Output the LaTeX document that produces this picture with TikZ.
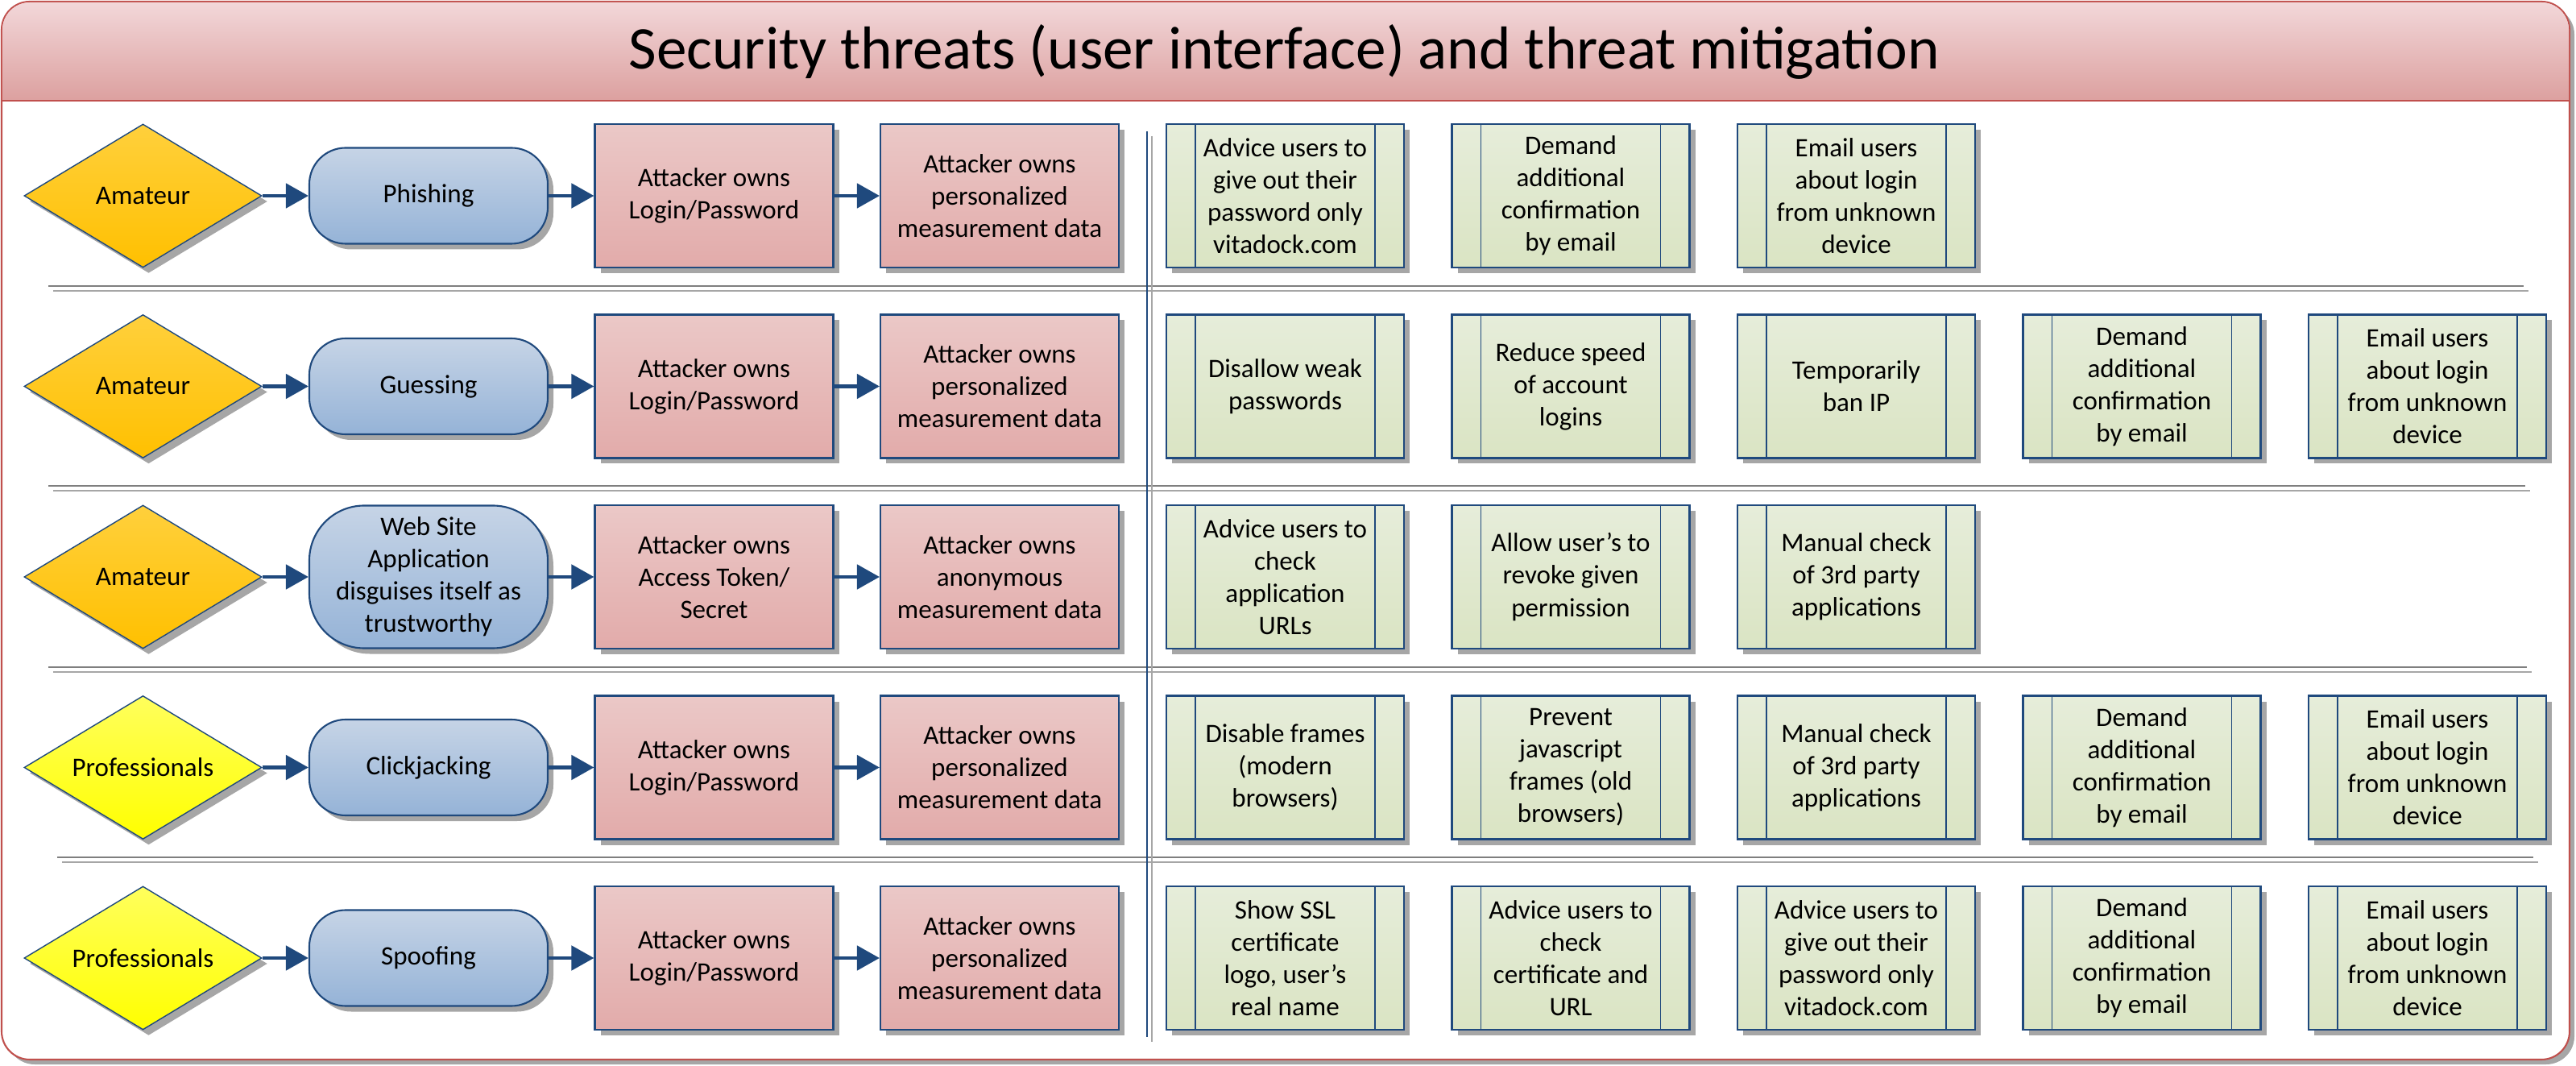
\documentclass[tikz,border=0pt]{standalone}
\usepackage{fontspec}
\setmainfont{Carlito}
\usepackage{xcolor}
\usetikzlibrary{positioning,shapes.geometric,shadows,arrows.meta}

\definecolor{linkblue}{HTML}{1F497D}
\definecolor{framered}{HTML}{C0504D}
\definecolor{titletop}{HTML}{F2D7D9}
\definecolor{titlebot}{HTML}{DCA09F}
\definecolor{amatop}{HTML}{FFD03C}
\definecolor{amabot}{HTML}{FFC000}
\definecolor{protop}{HTML}{FFFF5C}
\definecolor{probot}{HTML}{FFFF00}
\definecolor{thrtop}{HTML}{C6D4E6}
\definecolor{thrbot}{HTML}{95B3D7}
\definecolor{owntop}{HTML}{EBC8C7}
\definecolor{ownbot}{HTML}{E2ABAA}
\definecolor{mittop}{HTML}{E6EDDA}
\definecolor{mitbot}{HTML}{DAE4C3}
\definecolor{sepdark}{HTML}{7F7F7F}
\definecolor{seplight}{HTML}{A6A6A6}

\begin{document}
\begin{tikzpicture}[node distance=3.545cm,on grid,
   >={Triangle[length=0.28cm,width=0.3cm]},
   every node/.style={font=\fontsize{9.4}{11.4}\selectfont,align=center,inner sep=0pt},
   boxshadow/.style={drop shadow={shadow xshift=0.07cm,shadow yshift=-0.07cm,opacity=1,fill=seplight}},
   attacker/.style={boxshadow,diamond,aspect=1.66,minimum width=2.95cm,minimum height=1.78cm,
      draw=linkblue,line width=0.4pt,top color=amatop,bottom color=amabot},
   pro/.style={attacker,top color=protop,bottom color=probot},
   threat/.style={boxshadow,rectangle,rounded corners=0.45cm,minimum width=2.96cm,minimum height=1.19cm,
      draw=linkblue,line width=0.6pt,top color=thrtop,bottom color=thrbot},
   owns/.style={boxshadow,rectangle,minimum width=2.96cm,minimum height=1.78cm,
      draw=linkblue,line width=0.6pt,top color=owntop,bottom color=ownbot},
   counter/.style={boxshadow,rectangle,minimum width=2.95cm,minimum height=1.78cm,
      draw=linkblue,line width=0.6pt,top color=mittop,bottom color=mitbot,
      path picture={\draw[linkblue,line width=0.4pt]
         ([xshift=0.36cm]path picture bounding box.north west) -- ([xshift=0.36cm]path picture bounding box.south west)
         ([xshift=-0.36cm]path picture bounding box.north east) -- ([xshift=-0.36cm]path picture bounding box.south east);}},
   flow/.style={->,draw=linkblue,color=linkblue,line width=1.4pt},
   sepline/.style={line width=0.7pt}]
   \useasboundingbox (0,0) rectangle (31.98,-13.23);

   % frame and title band
   \draw[framered,fill=white,line width=0.6pt,rounded corners=0.35cm,
      drop shadow={shadow xshift=0.06cm,shadow yshift=-0.06cm,opacity=1,fill=seplight}]
      (0.02,-0.02) rectangle (31.90,-13.15);
   \shade[top color=titletop,bottom color=titlebot]
      (0.03,-1.25) -- (0.03,-0.37) arc[start angle=180,end angle=90,radius=0.34]
      -- (31.55,-0.03) arc[start angle=90,end angle=0,radius=0.34] -- (31.89,-1.25) -- cycle;
   \draw[framered,line width=0.6pt] (0.02,-1.25) -- (31.90,-1.25);
   \node[font=\fontsize{21.4}{25}\selectfont] (title) at (15.94,-0.64)
      {Security threats (user interface) and threat mitigation};

   % row separators and column divider
   \draw[sepline,sepdark]  (0.60,-3.55) -- (31.33,-3.55);
   \draw[sepline,seplight] (0.66,-3.61) -- (31.39,-3.61);
   \draw[sepline,sepdark]  (0.60,-6.03) -- (31.35,-6.03);
   \draw[sepline,seplight] (0.66,-6.09) -- (31.41,-6.09);
   \draw[sepline,sepdark]  (0.60,-8.28) -- (31.37,-8.28);
   \draw[sepline,seplight] (0.66,-8.34) -- (31.43,-8.34);
   \draw[sepline,sepdark]  (0.71,-10.64) -- (31.45,-10.64);
   \draw[sepline,seplight] (0.77,-10.70) -- (31.51,-10.70);
   \draw[linkblue,line width=0.5pt] (14.24,-1.63) -- (14.24,-12.87);
   \draw[seplight,line width=0.6pt] (14.30,-1.69) -- (14.30,-12.93);

   % row 1
   \node[attacker] (att_1) at (1.775,-2.43) {Amateur};
   \node[threat] (thr_1) [right=of att_1] {Phishing};
   \node[owns] (own_1) [right=of thr_1] {Attacker owns\\Login/Password};
   \node[owns] (dat_1) [right=of own_1] {Attacker owns\\personalized\\measurement data};
   \node[counter] (mit_1a) [right=of dat_1] {Advice users to\\give out their\\password only\\vitadock.com};
   \node[counter] (mit_1b) [right=of mit_1a] {Demand\\additional\\confirmation\\by email};
   \node[counter] (mit_1c) [right=of mit_1b] {Email users\\about login\\from unknown\\device};

   % row 2
   \node[attacker] (att_2) [below=2.365cm of att_1] {Amateur};
   \node[threat] (thr_2) [right=of att_2] {Guessing};
   \node[owns] (own_2) [right=of thr_2] {Attacker owns\\Login/Password};
   \node[owns] (dat_2) [right=of own_2] {Attacker owns\\personalized\\measurement data};
   \node[counter] (mit_2a) [right=of dat_2] {Disallow weak\\passwords};
   \node[counter] (mit_2b) [right=of mit_2a] {Reduce speed\\of account\\logins};
   \node[counter] (mit_2c) [right=of mit_2b] {Temporarily\\ban IP};
   \node[counter] (mit_2d) [right=of mit_2c] {Demand\\additional\\confirmation\\by email};
   \node[counter] (mit_2e) [right=of mit_2d] {Email users\\about login\\from unknown\\device};

   % row 3
   \node[attacker] (att_3) [below=2.365cm of att_2] {Amateur};
   \node[threat,rounded corners=0.68cm,minimum height=1.77cm] (thr_3) [right=of att_3]
      {Web Site\\Application\\disguises itself as\\trustworthy};
   \node[owns] (own_3) [right=of thr_3] {Attacker owns\\Access Token/\\Secret};
   \node[owns] (dat_3) [right=of own_3] {Attacker owns\\anonymous\\measurement data};
   \node[counter] (mit_3a) [right=of dat_3] {Advice users to\\check\\application\\URLs};
   \node[counter] (mit_3b) [right=of mit_3a] {Allow user’s to\\revoke given\\permission};
   \node[counter] (mit_3c) [right=of mit_3b] {Manual check\\of 3rd party\\applications};

   % row 4
   \node[pro] (att_4) [below=2.365cm of att_3] {Professionals};
   \node[threat] (thr_4) [right=of att_4] {Clickjacking};
   \node[owns] (own_4) [right=of thr_4] {Attacker owns\\Login/Password};
   \node[owns] (dat_4) [right=of own_4] {Attacker owns\\personalized\\measurement data};
   \node[counter] (mit_4a) [right=of dat_4] {Disable frames\\(modern\\browsers)};
   \node[counter] (mit_4b) [right=of mit_4a] {Prevent\\javascript\\frames (old\\browsers)};
   \node[counter] (mit_4c) [right=of mit_4b] {Manual check\\of 3rd party\\applications};
   \node[counter] (mit_4d) [right=of mit_4c] {Demand\\additional\\confirmation\\by email};
   \node[counter] (mit_4e) [right=of mit_4d] {Email users\\about login\\from unknown\\device};

   % row 5
   \node[pro] (att_5) [below=2.365cm of att_4] {Professionals};
   \node[threat] (thr_5) [right=of att_5] {Spoofing};
   \node[owns] (own_5) [right=of thr_5] {Attacker owns\\Login/Password};
   \node[owns] (dat_5) [right=of own_5] {Attacker owns\\personalized\\measurement data};
   \node[counter] (mit_5a) [right=of dat_5] {Show SSL\\certificate\\logo, user’s\\real name};
   \node[counter] (mit_5b) [right=of mit_5a] {Advice users to\\check\\certificate and\\URL};
   \node[counter] (mit_5c) [right=of mit_5b] {Advice users to\\give out their\\password only\\vitadock.com};
   \node[counter] (mit_5d) [right=of mit_5c] {Demand\\additional\\confirmation\\by email};
   \node[counter] (mit_5e) [right=of mit_5d] {Email users\\about login\\from unknown\\device};

   \path[flow]
   (att_1) edge (thr_1)
   (thr_1) edge (own_1)
   (own_1) edge (dat_1)
   (att_2) edge (thr_2)
   (thr_2) edge (own_2)
   (own_2) edge (dat_2)
   (att_3) edge (thr_3)
   (thr_3) edge (own_3)
   (own_3) edge (dat_3)
   (att_4) edge (thr_4)
   (thr_4) edge (own_4)
   (own_4) edge (dat_4)
   (att_5) edge (thr_5)
   (thr_5) edge (own_5)
   (own_5) edge (dat_5);
\end{tikzpicture}
\end{document}
